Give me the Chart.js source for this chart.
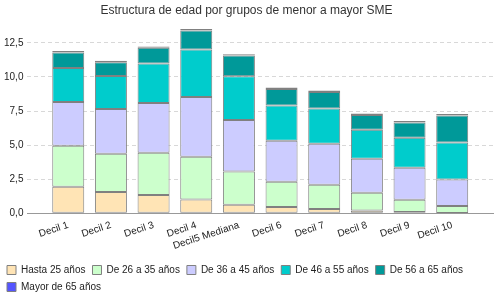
<!DOCTYPE html>
<html>
<head>
<meta charset="utf-8">
<script src="https://cdn.jsdelivr.net/npm/chart.js@4/dist/chart.umd.min.js"></script>
<style>
  html, body { margin: 0; padding: 0; background: #fff; }
  #wrap { width: 500px; height: 300px; position: relative; }
</style>
</head>
<body>
<div id="wrap"><canvas id="c" width="500" height="300"></canvas></div>
<script>
const titleText = 'Estructura de edad por grupos de menor a mayor SME';
const categories = ['Decil 1', 'Decil 2', 'Decil 3', 'Decil 4', 'Decil5 Mediana', 'Decil 6', 'Decil 7', 'Decil 8', 'Decil 9', 'Decil 10'];
const seriesNames = ['Hasta 25 años', 'De 26 a 35 años', 'De 36 a 45 años', 'De 46 a 55 años', 'De 56 a 65 años', 'Mayor de 65 años'];
const hasta25 = [1.94, 1.57, 1.35, 1.01, 0.62, 0.47, 0.32, 0.20, 0.10, 0.02];
const de26a35 = [3.01, 2.80, 3.09, 3.14, 2.45, 1.84, 1.77, 1.30, 0.89, 0.52];
const de36a45 = [3.21, 3.28, 3.65, 4.38, 3.77, 3.01, 3.01, 2.50, 2.35, 1.94];
const de46a55 = [2.50, 2.42, 2.90, 3.48, 3.21, 2.58, 2.58, 2.13, 2.20, 2.72];
const de56a65 = [1.14, 1.01, 1.15, 1.40, 1.52, 1.22, 1.22, 1.08, 1.12, 1.98];
const mayor65 = [0.10, 0.10, 0.10, 0.10, 0.10, 0.10, 0.10, 0.10, 0.10, 0.10];
const yTicks = [0, 2.5, 5, 7.5, 10, 12.5];

const colors = ['#ffe4b5', '#ccffcc', '#ccccff', '#00cccc', '#009999', '#5555ff'];
const values = [hasta25, de26a35, de36a45, de46a55, de56a65, mayor65];

const FONT = 'Arial, "Liberation Sans", sans-serif';

const datasets = seriesNames.map((name, i) => ({
  label: name,
  data: values[i],
  backgroundColor: colors[i],
  borderColor: '#808080',
  borderWidth: 1,
  borderSkipped: false,
  barPercentage: 0.75,
  categoryPercentage: 1.0
}));

// Pads the category axis at both ends (the reference leaves extra space before the first and after the last bar)
const edgePad = {
  id: 'edgePad',
  afterLayout(chart) {
    const s = chart.scales.x;
    const pad = 0.456;
    s._startValue -= pad;
    s._valueRange += 2 * pad;
  }
};

new Chart(document.getElementById('c'), {
  type: 'bar',
  data: { labels: categories, datasets },
  plugins: [edgePad],
  options: {
    responsive: false,
    animation: false,
    layout: { padding: { left: 0, right: 7, top: 0, bottom: -2 } },
    plugins: {
      title: {
        display: true,
        text: titleText,
        color: '#333',
        font: { family: FONT, size: 12, weight: 'normal' },
        padding: { top: 3, bottom: 5 }
      },
      legend: {
        display: true,
        position: 'bottom',
        align: 'start',
        labels: {
          boxWidth: 9,
          boxHeight: 9,
          padding: 7,
          color: '#222',
          font: { family: FONT, size: 10 }
        }
      },
      tooltip: { enabled: false }
    },
    scales: {
      x: {
        stacked: true,
        grid: { display: false, drawTicks: false },
        border: { display: true, color: '#999', width: 1 },
        ticks: {
          autoSkip: false,
          minRotation: 18,
          maxRotation: 18,
          padding: 6,
          color: '#222',
          font: { family: FONT, size: 10 }
        }
      },
      y: {
        stacked: true,
        min: 0,
        max: 14,
        grid: { color: '#d8d8d8', drawTicks: false },
        border: { display: false, dash: [4, 3] },
        afterBuildTicks(scale) {
          scale.ticks = yTicks.map(v => ({ value: v }));
        },
        ticks: {
          padding: 4,
          color: '#222',
          font: { family: FONT, size: 10 },
          callback: (v) => Number(v).toFixed(1).replace('.', ',')
        }
      }
    }
  }
});
</script>
</body>
</html>
